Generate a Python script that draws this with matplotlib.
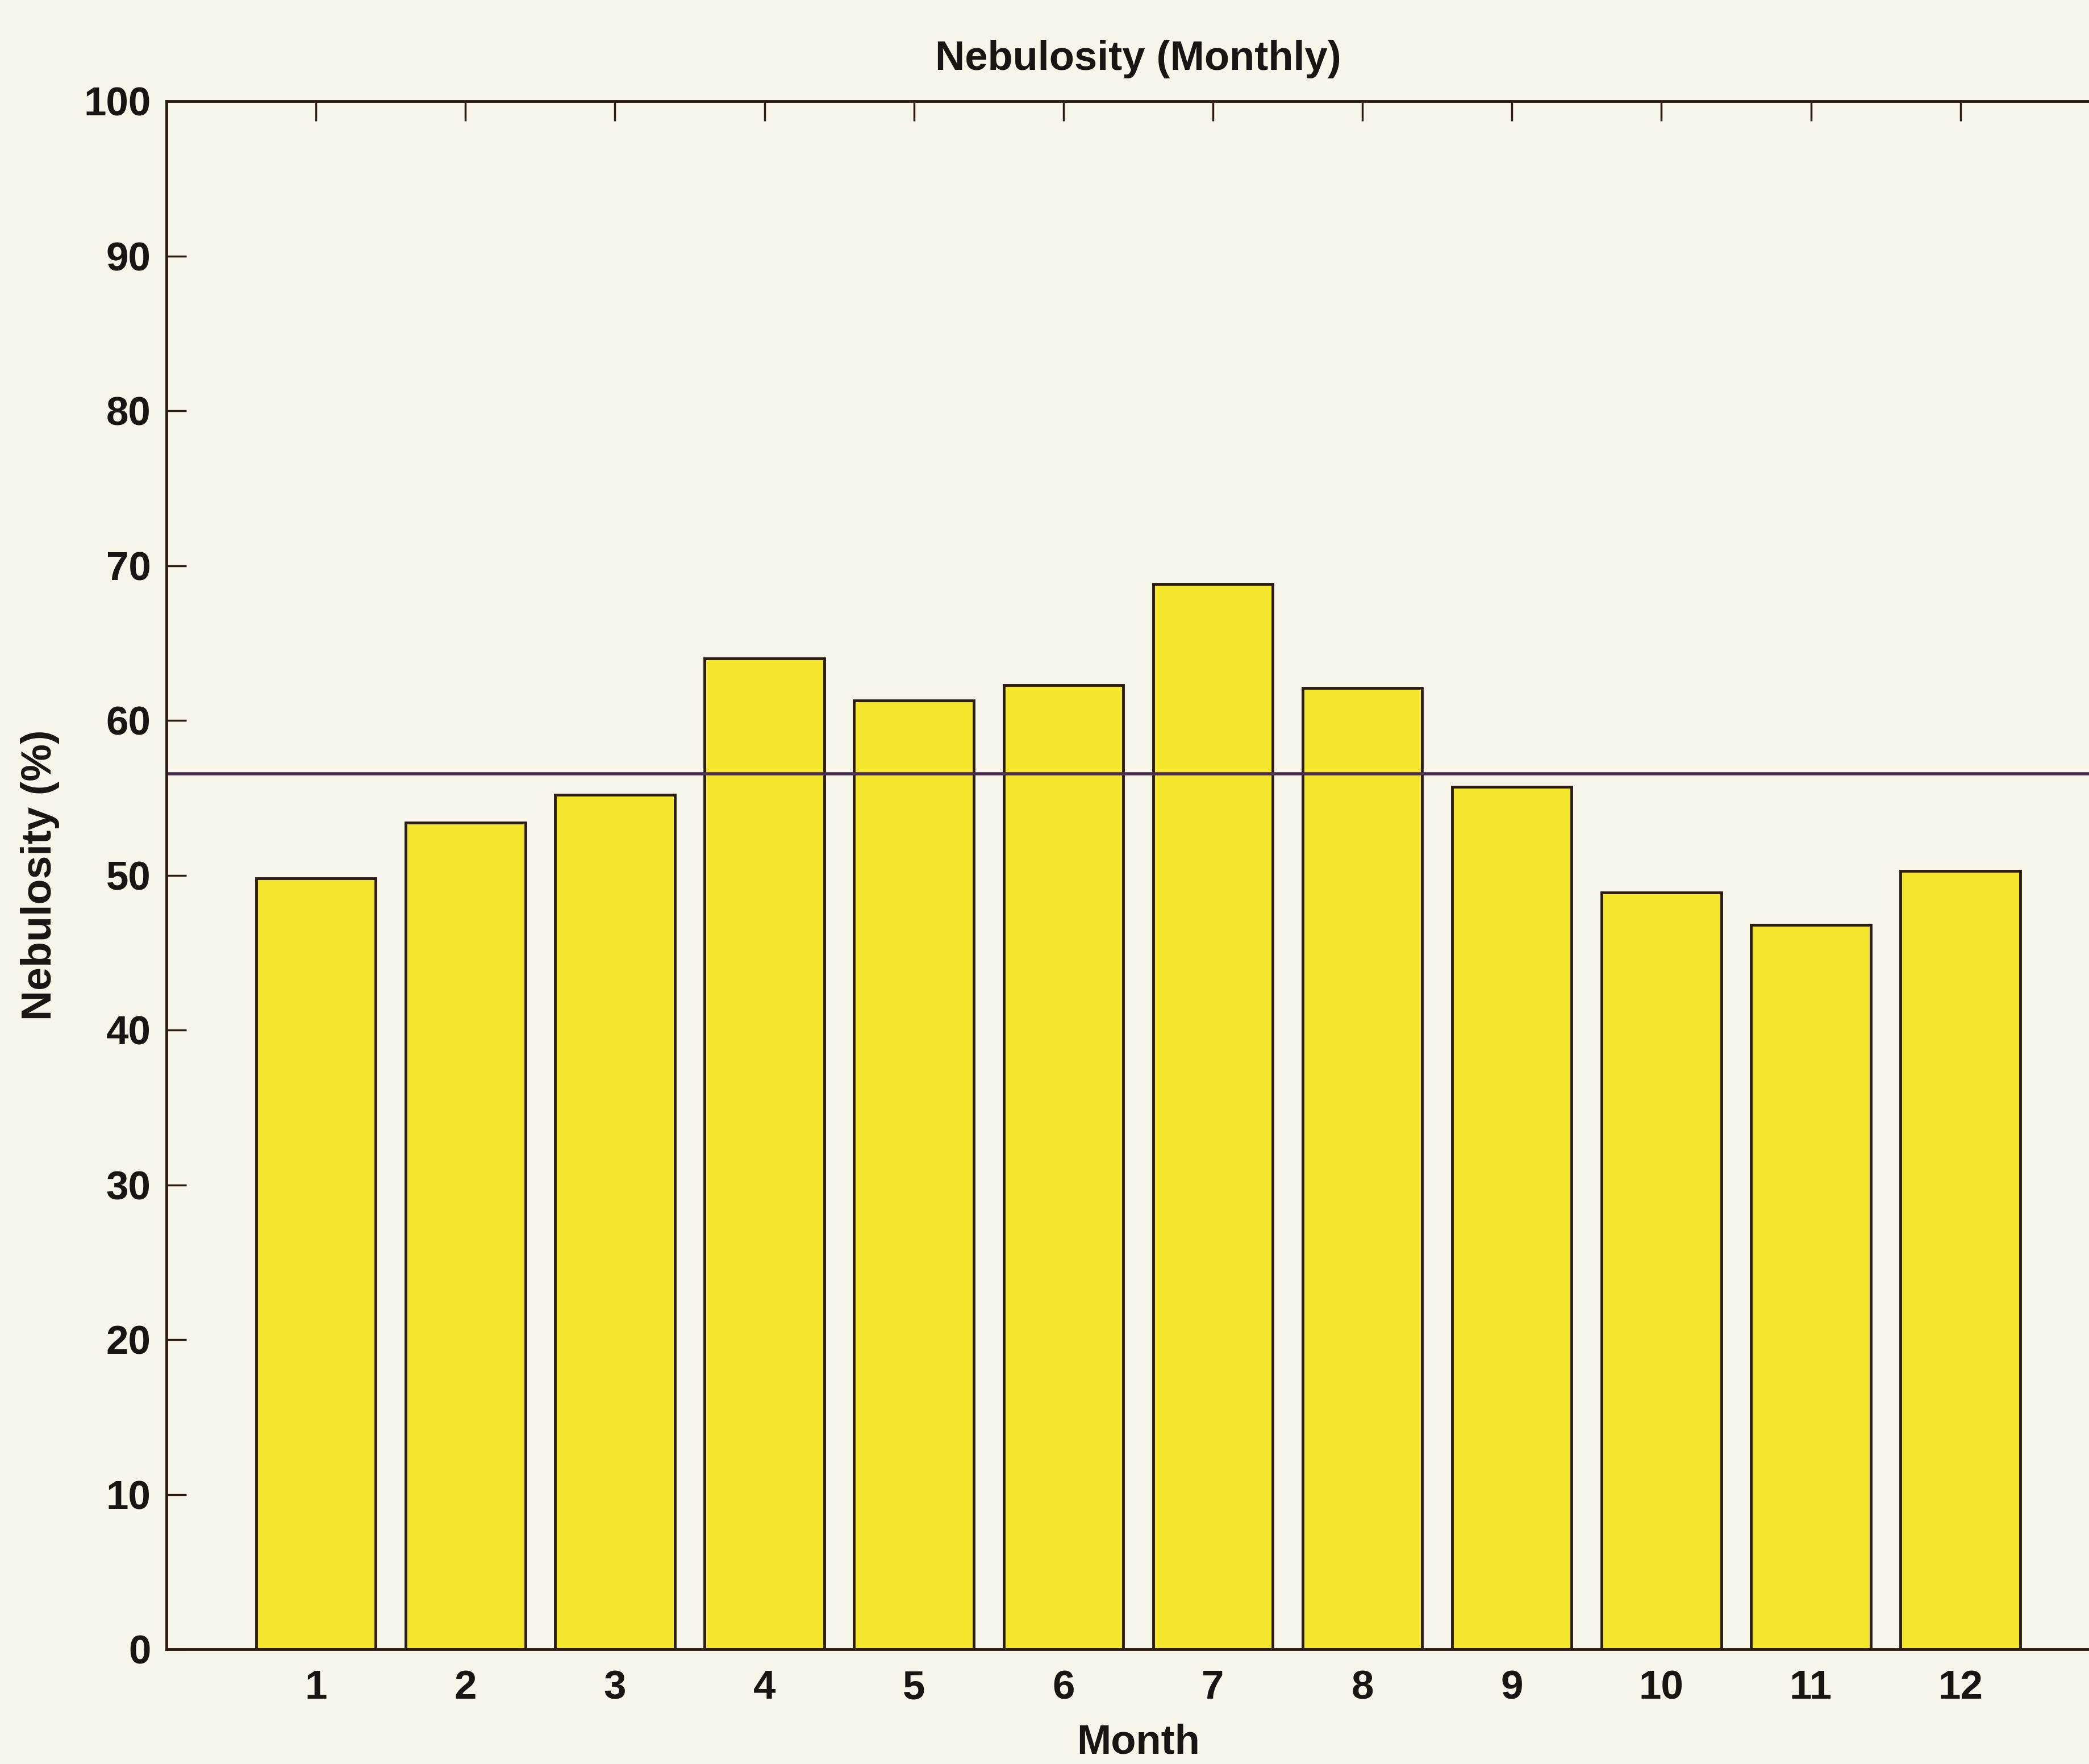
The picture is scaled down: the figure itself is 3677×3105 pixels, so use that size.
import numpy as np
import matplotlib
matplotlib.use("Agg")
import matplotlib.pyplot as plt

plt.rcParams['font.family'] = ['Liberation Sans', 'DejaVu Sans']
plt.rcParams['font.weight'] = 'bold'

# Monthly mean nebulosity (%)
months = [1, 2, 3, 4, 5, 6, 7, 8, 9, 10, 11, 12]
nebulosity = [49.8, 53.4, 55.2, 64.0, 61.3, 62.3, 68.8, 62.1, 55.7, 48.9, 46.8, 50.3]
yticks = [0, 10, 20, 30, 40, 50, 60, 70, 80, 90, 100]

paper = '#f7f4ea'
bar_color = '#f3e62c'
edge = '#2b1c14'
mean_color = '#4a2c55'
ink = '#1a1412'

fig = plt.figure(figsize=(36.77, 31.05), dpi=100, facecolor=paper)
# axes runs slightly past the right edge of the figure
ax = fig.add_axes([0.0797, 0.0650, 0.9303, 0.8776])
ax.set_facecolor(paper)

ax.bar(months, nebulosity, width=0.8, color=bar_color, edgecolor=edge,
       linewidth=3.5, zorder=1)

# annual mean line
mean_val = np.mean(nebulosity)
ax.axhline(mean_val, color=mean_color, linewidth=4, zorder=2)

ax.set_xlim(0, 13)
ax.set_ylim(0, 100)
ax.set_xticks(months)
ax.set_yticks(yticks)
ax.set_axisbelow(True)

ax.tick_params(axis='both', direction='in', length=25, width=2.5,
               color=edge, labelsize=51, labelcolor=ink,
               top=True, right=True)
ax.tick_params(axis='x', pad=26)
ax.tick_params(axis='y', pad=20)

for s in ax.spines.values():
    s.set_linewidth(3.5)
    s.set_color(edge)

ax.set_title('Nebulosity (Monthly)', fontsize=52, pad=40, color=ink,
             fontweight='bold')
ax.set_xlabel('Month', fontsize=52, labelpad=20, color=ink, fontweight='bold')
ax.set_ylabel('Nebulosity (%)', fontsize=53, labelpad=30, color=ink,
              fontweight='bold')

fig.savefig('out.png', dpi=100, facecolor=paper)
